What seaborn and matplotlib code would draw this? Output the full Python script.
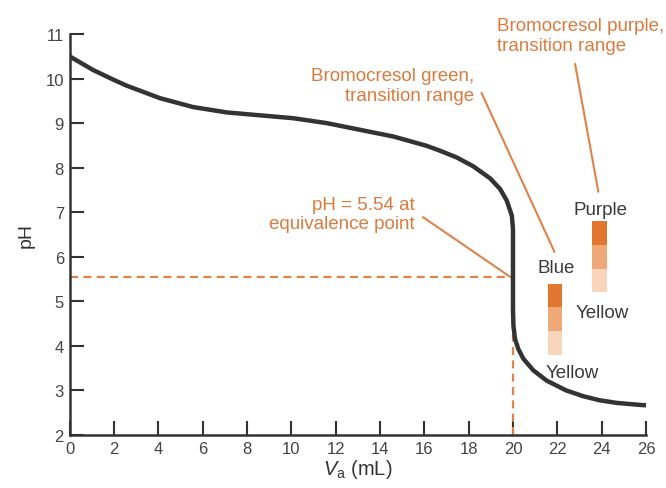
import matplotlib
matplotlib.use("Agg")
import matplotlib.pyplot as plt
import seaborn as sns
import pandas as pd
from matplotlib.patches import Rectangle

# ---- data ----
volume_ml = [0, 1.07, 2.0, 2.58, 4.08, 5.58, 7.09, 8.59, 10.09, 11.6, 13.1, 14.6,
             16.11, 16.71, 17.46, 18.21, 18.97, 19.42, 19.72, 19.95, 20.0, 20.0,
             20.0, 20.02, 20.09, 20.24, 20.47, 20.92, 21.52, 22.12, 22.4, 23.17,
             23.9, 24.68, 25.85, 26.0]
ph_values = [10.5, 10.19, 9.97, 9.84, 9.56, 9.36, 9.24, 9.175, 9.11, 9.0, 8.85, 8.70,
             8.49, 8.38, 8.23, 8.03, 7.76, 7.52, 7.26, 6.92, 6.62, 5.54,
             4.83, 4.46, 4.16, 3.93, 3.71, 3.45, 3.22, 3.07, 3.0, 2.87,
             2.78, 2.72, 2.67, 2.67]

equivalence_volume = 20.0
equivalence_ph = 5.54

green_range = [3.8, 5.4]      # bromocresol green transition range
purple_range = [5.2, 6.8]     # bromocresol purple transition range
indicator_positions = [21.9, 23.9]
shade_colors = ["#e2762e", "#efa877", "#f8d5bb"]

x_ticks = list(range(0, 27, 2))
y_ticks = list(range(2, 12))

ORANGE_TEXT = "#dc7a3e"
ORANGE_LINE = "#e0834a"
DARK = "#333333"

sns.set_style("ticks")
plt.rcParams['font.family'] = ['Liberation Sans', 'DejaVu Sans']
plt.rcParams['mathtext.fontset'] = 'custom'
plt.rcParams['mathtext.rm'] = 'Liberation Sans'
plt.rcParams['mathtext.it'] = 'Liberation Sans:italic'

fig = plt.figure(figsize=(6.66, 4.89), dpi=100)
ax = fig.add_axes([0.1044, 0.1084, 0.8656, 0.8200])

df = pd.DataFrame({"Va": volume_ml, "pH": ph_values})

# dashed guide lines for equivalence point
ax.plot([0, equivalence_volume], [equivalence_ph, equivalence_ph], color=ORANGE_LINE,
        lw=1.6, dashes=(3.6, 2.4), zorder=2)
ax.plot([equivalence_volume, equivalence_volume], [2, equivalence_ph], color=ORANGE_LINE,
        lw=1.6, dashes=(3.6, 2.4), zorder=2)

sns.lineplot(data=df, x="Va", y="pH", sort=False, estimator=None, ax=ax,
             color=DARK, lw=3.2, zorder=3)
ax.lines[-1].set_solid_joinstyle('round')
ax.lines[-1].set_solid_capstyle('butt')

# indicator colour bars
bar_w = 0.65
for xc, rng in zip(indicator_positions, [green_range, purple_range]):
    lo, hi = rng
    step = (hi - lo) / 3
    for i, c in enumerate(shade_colors):
        top = hi - i * step
        ax.add_patch(Rectangle((xc - bar_w / 2, top - step), bar_w, step,
                               facecolor=c, edgecolor='none', zorder=2))

ax.set_xlim(0, 26)
ax.set_ylim(2, 11)
ax.set_xticks(x_ticks)
ax.set_yticks(y_ticks)
ax.tick_params(direction='in', length=10, width=1.5, color=DARK, labelsize=12,
               labelcolor="#444444", pad=4)
for s in ['left', 'bottom']:
    ax.spines[s].set_linewidth(1.8)
    ax.spines[s].set_color(DARK)
sns.despine(ax=ax)

ax.set_xlabel(r'$V_{\rm a}$ (mL)', fontsize=14.5, color=DARK, labelpad=1)
ax.set_ylabel('pH', fontsize=14, color=DARK, labelpad=8)

# annotations
FS = 13.5
LS = 1.22
ax.text(15.58, 6.96, "pH = 5.54 at\nequivalence point", ha='right', va='center',
        fontsize=FS, color=ORANGE_TEXT, linespacing=LS, multialignment='right')
ax.plot([15.94, 19.87], [6.89, 5.55], color=ORANGE_LINE, lw=1.5, zorder=2)

ax.text(18.25, 9.84, "Bromocresol green,\ntransition range", ha='right', va='center',
        fontsize=FS, color=ORANGE_TEXT, linespacing=LS, multialignment='right')
ax.plot([18.58, 21.87], [9.68, 6.11], color=ORANGE_LINE, lw=1.5, zorder=2)

ax.text(19.28, 10.96, "Bromocresol purple,\ntransition range", ha='left', va='center',
        fontsize=FS, color=ORANGE_TEXT, linespacing=LS, clip_on=False)
ax.plot([22.8, 23.85], [10.33, 7.46], color=ORANGE_LINE, lw=1.5, zorder=2)

LBL = "#3a3a3a"
ax.text(21.94, 5.75, "Blue", ha='center', va='center', fontsize=FS, color=LBL)
ax.text(22.66, 3.41, "Yellow", ha='center', va='center', fontsize=FS, color=LBL)
ax.text(23.93, 7.07, "Purple", ha='center', va='center', fontsize=FS, color=LBL)
ax.text(24.02, 4.74, "Yellow", ha='center', va='center', fontsize=FS, color=LBL)

fig.savefig("out.png", dpi=100)
